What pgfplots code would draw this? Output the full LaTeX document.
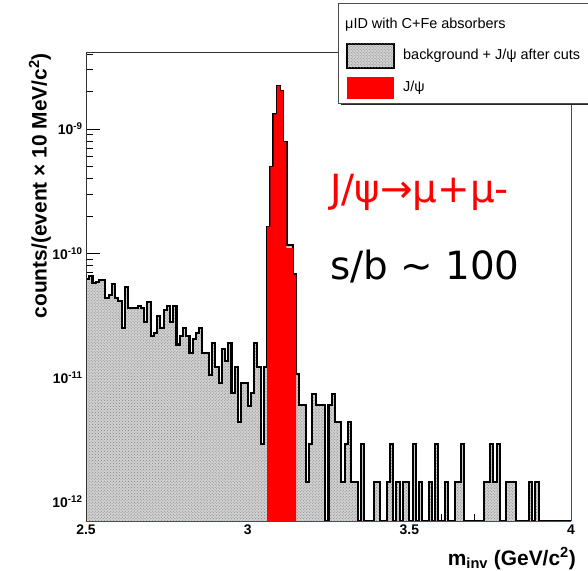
\documentclass[border=0pt]{standalone}
\usepackage{fontspec}
\setmainfont{Liberation Sans}
\newfontfamily\dejavu{DejaVu Sans}
\usepackage{pgfplots}
\pgfplotsset{compat=1.18}
\usepackage{pgfplotstable}
\usetikzlibrary{patterns}

% background + J/psi after cuts (bin left edges, 10 MeV bins); 7.03e-13 = empty bin (axis bottom)
\pgfplotstableread{
x y
2.50 7.03e-13
2.50 6.21e-11
2.51 6.57e-11
2.52 5.74e-11
2.53 5.91e-11
2.54 6.06e-11
2.55 6.06e-11
2.56 4.39e-11
2.57 4.62e-11
2.58 5.69e-11
2.59 4.35e-11
2.60 4.13e-11
2.61 2.49e-11
2.62 5.39e-11
2.63 3.65e-11
2.64 3.65e-11
2.65 3.65e-11
2.66 3.79e-11
2.67 3.65e-11
2.68 2.82e-11
2.69 4.03e-11
2.70 2.16e-11
2.71 2.27e-11
2.72 3.15e-11
2.73 2.49e-11
2.74 3.50e-11
2.75 3.79e-11
2.76 2.82e-11
2.77 3.79e-11
2.78 1.85e-11
2.79 2.16e-11
2.80 2.49e-11
2.81 2.16e-11
2.82 1.57e-11
2.83 2.03e-11
2.84 2.27e-11
2.85 2.49e-11
2.86 1.57e-11
2.87 1.57e-11
2.88 1.05e-11
2.89 1.89e-11
2.90 1.22e-11
2.91 9.1e-12
2.92 1.69e-11
2.93 1.37e-11
2.94 1.89e-11
2.95 7.48e-12
2.96 1.22e-11
2.97 4.42e-12
2.98 9.1e-12
2.99 9.1e-12
3.00 5.91e-12
3.01 7.48e-12
3.02 1.89e-11
3.03 1.22e-11
3.04 2.92e-12
3.05 1.22e-11
3.06 1.64e-10
3.07 4.97e-10
3.08 1.31e-9
3.09 2.22e-9
3.10 2.03e-9
3.11 7.90e-10
3.12 1.17e-10
3.13 1.17e-10
3.14 6.8e-11
3.15 1.07e-11
3.16 6.0e-12
3.17 6.0e-12
3.18 1.45e-12
3.19 2.94e-12
3.20 7.45e-12
3.21 6.0e-12
3.22 6.0e-12
3.23 6.0e-12
3.24 7.03e-13
3.25 6.0e-12
3.26 7.45e-12
3.27 4.42e-12
3.28 4.42e-12
3.29 1.45e-12
3.30 2.94e-12
3.31 4.42e-12
3.32 1.45e-12
3.33 1.45e-12
3.34 7.03e-13
3.35 2.94e-12
3.36 7.03e-13
3.39 1.45e-12
3.40 1.45e-12
3.41 7.03e-13
3.43 1.45e-12
3.44 2.94e-12
3.45 7.03e-13
3.46 1.45e-12
3.47 7.03e-13
3.48 1.45e-12
3.49 1.45e-12
3.50 7.03e-13
3.51 2.94e-12
3.52 7.03e-13
3.53 1.45e-12
3.54 7.03e-13
3.56 1.45e-12
3.57 7.03e-13
3.58 2.94e-12
3.59 7.03e-13
3.61 1.45e-12
3.62 7.03e-13
3.64 1.45e-12
3.65 1.45e-12
3.66 2.94e-12
3.67 7.03e-13
3.73 1.45e-12
3.74 1.45e-12
3.75 2.94e-12
3.76 1.45e-12
3.77 2.94e-12
3.78 7.03e-13
3.80 1.45e-12
3.81 1.45e-12
3.82 1.45e-12
3.83 7.03e-13
3.87 1.45e-12
3.88 7.03e-13
3.89 1.45e-12
3.90 7.03e-13
4.00 7.03e-13
}\totaltab

% J/psi signal
\pgfplotstableread{
x y
3.06 7.03e-13
3.06 1.64e-10
3.07 4.97e-10
3.08 1.31e-9
3.09 2.22e-9
3.10 2.03e-9
3.11 7.90e-10
3.12 1.10e-10
3.13 1.10e-10
3.14 6.69e-11
3.15 7.03e-13
}\jpsitab

\begin{document}
\begin{tikzpicture}
\begin{axis}[
  at={(0,0)}, anchor=south west,
  scale only axis, width=485bp, height=469bp,
  xmin=2.5, xmax=4, ymode=log, ymin=7.03e-13, ymax=4.165e-9,
  axis line style={draw=none},
  xtick={2.5,3,3.5,4}, xticklabels={2.5,3,3.5,4}, minor x tick num=4,
  ytick={1e-12,1e-11,1e-10,1e-9},
  yticklabels={10\textsuperscript{-12},10\textsuperscript{-11},10\textsuperscript{-10},10\textsuperscript{-9}},
  minor ytick={8e-13,9e-13,2e-12,3e-12,4e-12,5e-12,6e-12,7e-12,8e-12,9e-12,2e-11,3e-11,4e-11,5e-11,6e-11,7e-11,8e-11,9e-11,2e-10,3e-10,4e-10,5e-10,6e-10,7e-10,8e-10,9e-10,2e-9,3e-9,4e-9},
  xtick pos=left, ytick pos=left, tick align=inside,
  major tick length=14bp, minor tick length=7bp,
  every tick/.style={black, line width=0.6bp},
  xticklabel style={font=\fontsize{14}{16}\selectfont\bfseries},
  yticklabel style={font=\fontsize{14}{16}\selectfont\bfseries},
]
\addplot[const plot, draw=none, fill=black!18,
  postaction={pattern=crosshatch dots, pattern color=black!50}] table[x=x,y=y] {\totaltab};
\addplot[const plot, black, line width=2.1bp] table[x=x,y=y] {\totaltab};
\addplot[const plot, draw=none, fill=red] table[x=x,y=y] {\jpsitab};
\end{axis}

% frame
\draw[black!80, line width=0.6bp] (0,0) -- (0,469bp) -- (252bp,469bp);
\draw[red, line width=1.2bp] (0,-0.4bp) -- (485bp,-0.4bp);
\draw[red, line width=1bp] (485bp,0) -- (485bp,469bp);

% legend
\fill[black!85] (254.5bp,415.5bp) rectangle (540bp,516bp);
\filldraw[fill=white, draw=black!70, line width=0.6bp] (252bp,418bp) rectangle (540bp,518bp);
\node[anchor=west, inner sep=0, font=\fontsize{14.5}{16}\selectfont] at (259bp,496bp) {μID with C+Fe absorbers};
\filldraw[fill=black!18, postaction={pattern=crosshatch dots, pattern color=black!50}, draw=black, line width=1.6bp] (261bp,453bp) rectangle (308bp,477bp);
\node[anchor=west, inner sep=0, font=\fontsize{14.5}{16}\selectfont] at (317bp,465bp) {background + J/ψ after cuts};
\fill[red] (261bp,422bp) rectangle (308bp,444bp);
\node[anchor=west, inner sep=0, font=\fontsize{14.5}{16}\selectfont] at (317bp,433bp) {J/ψ};

% annotations
\node[anchor=west, inner sep=0, text=red, font=\dejavu\fontsize{39}{44}\selectfont] at (244bp,329bp) {J/ψ→μ+μ-};
\node[anchor=west, inner sep=0, font=\dejavu\fontsize{39}{44}\selectfont] at (244bp,254bp) {s/b \textasciitilde{} 100};

% axis titles
\node[rotate=90, anchor=east, inner sep=0, font=\bfseries\fontsize{21}{24}\selectfont] at (-46bp,468bp) {counts/(event × 10 MeV/c\textsuperscript{2})};
\node[anchor=base east, inner sep=0, font=\bfseries\fontsize{21}{24}\selectfont] at (490bp,-44bp) {m\textsubscript{inv} (GeV/c\textsuperscript{2})};

\pgfresetboundingbox
\path[use as bounding box] (-86bp,-50bp) rectangle (502bp,521bp);
\end{tikzpicture}
\end{document}
